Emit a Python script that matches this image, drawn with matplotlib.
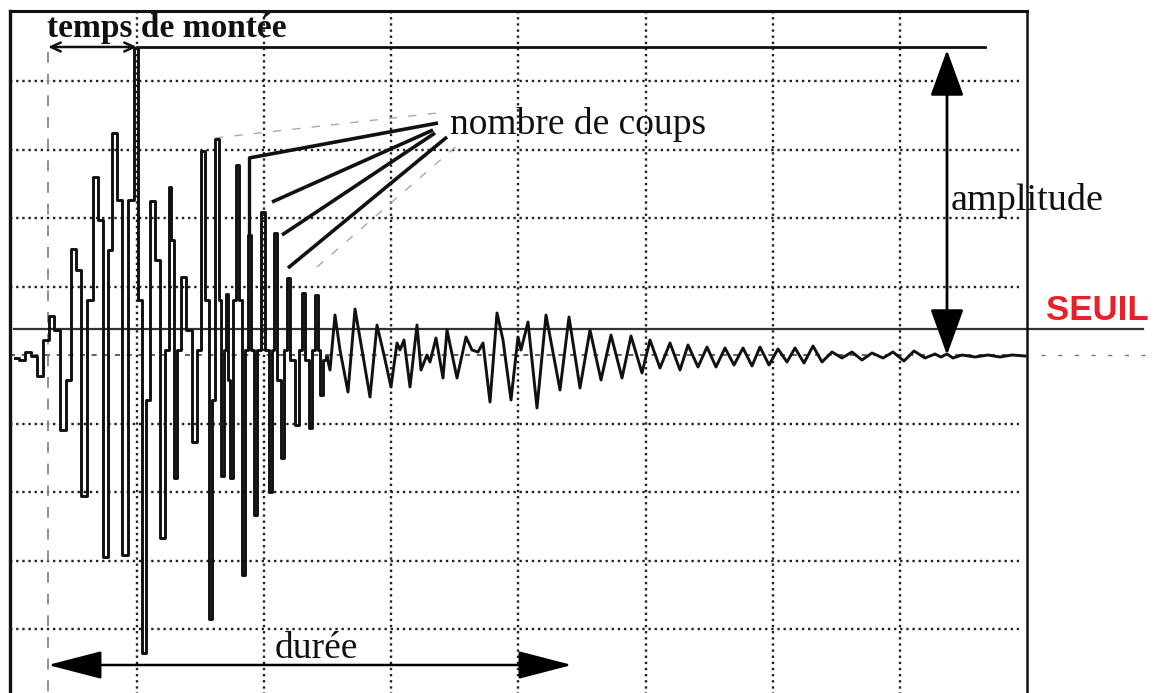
import matplotlib
matplotlib.use("Agg")
import matplotlib.pyplot as plt
from matplotlib.patches import ArrowStyle
import numpy as np

# ---- data: acoustic-emission burst (time in samples, amplitude in counts) ----
time = [5, 12, 18, 23, 30, 36, 42, 46, 53, 58, 63, 68, 74, 80, 85, 90, 95, 100,
        104, 109, 115, 121, 126, 130, 133, 138, 142, 147, 153, 157, 160, 162, 165,
        169, 173, 178, 185, 189, 193, 197, 200, 203, 207, 210, 212, 215, 217, 219,
        221, 224, 227, 230, 233, 236, 239, 242, 245, 249, 253, 257, 260, 263, 265,
        269, 272, 275, 278, 282, 287, 290, 293, 297, 300, 303, 306, 309, 311, 314,
        317, 320, 325, 330, 338, 345, 352, 360, 367, 374, 381, 387, 390, 394, 400,
        407, 411, 417, 420, 426, 433, 437, 447, 456, 462, 468, 473, 480, 487, 493,
        501, 508, 511, 518, 527, 536, 550, 559, 570, 580, 591, 601, 612, 621, 632,
        640, 650, 660, 670, 678, 688, 697, 706, 715, 724, 733, 742, 750, 759, 768,
        777, 785, 794, 803, 812, 822, 832, 842, 852, 862, 873, 883, 894, 904, 915,
        925, 931, 937, 943, 952, 965, 978, 990, 1002, 1015]
amplitude = [-3, -5, 3, -1, -21, 15, 39, 25, -75, -25, 106, 85, -141, 55, 178, 135,
             -202, 105, 222, 155, -200, 155, 307, 55, -298, -45, 154, 95, -183, 5,
             168, 115, -123, 5, 78, 25, -87, 5, 204, 55, -264, -45, 216, 55, -121, 5,
             61, -25, -123, 55, 190, 55, -220, 5, 120, 5, -160, 5, 143, 5, -137, 5,
             122, -25, -103, 5, 77, -5, -70, 5, 62, -5, -73, 5, 60, 5, -40, -5, -2,
             -15, 40, 5, -37, 46, 5, -42, 30, 0, -32, 12, 5, 15, -32, 30, -15, 0, -7,
             17, -23, 25, -23, 18, 5, 3, 12, -47, 42, 15, -45, 18, 5, 33, -53, 40,
             -35, 38, -33, 25, -25, 20, -23, 19, -18, 15, -13, 12, -15, 10, -12, 8,
             -12, 7, -10, 7, -11, 8, -10, 6, -7, 7, -8, 9, -7, 3, -3, 3, -5, 2, -3,
             3, -6, 4, -3, 1, -2, 1, -3, 0, -2, 0, -2, 0, -1]

div_time = 127.1          # samples per horizontal division
div_amp = 68.5            # counts per vertical division
n_div_time = 8
n_div_amp = 5
threshold = 26            # SEUIL level
peak_amp = 307            # peak amplitude
t_first = 38              # first threshold crossing
t_peak = 127              # time of peak
t_last = 562              # last threshold crossing
amp_top_line_end = 975
t_smooth_from = 317       # after the main burst the trace is drawn smooth

labels = {
    "rise": "temps de montée",
    "counts": "nombre de coups",
    "amp": "amplitude",
    "dur": "durée",
    "seuil": "SEUIL",
}
count_peaks_t = [239, 262, 272, 278]
count_peaks_a = [197, 153, 120, 87]

# ---- figure ----
fig = plt.figure(figsize=(11.55, 6.93), dpi=100)
ax = fig.add_axes([0, 0, 1, 1])
ax.set_xlim(-10, 1145)
ax.set_ylim(-338, 355)
ax.axis("off")

t_max = div_time * n_div_time
a_top = div_amp * n_div_amp + 2
a_bot = -div_amp * n_div_amp - 5

# grid
dot = (0, (1, 1.6))
for k in range(1, n_div_time):
    ax.plot([k * div_time] * 2, [a_top, a_bot], color="#222", lw=1.7,
            ls=dot, dash_capstyle="butt", zorder=1)
for k in list(range(-4, 0)) + list(range(1, 5)):
    ax.plot([0, t_max - 8], [k * div_amp] * 2, color="#222", lw=1.7,
            ls=dot, dash_capstyle="butt", zorder=1)
# zero line (dashed inside, sparse outside)
ax.plot([0, t_max - 8], [0, 0], color="#444", lw=1.2, ls=(0, (3, 4)), zorder=1)
ax.plot([t_max + 14, t_max + 122], [0, 0], color="#777", lw=1.0, ls=(0, (3, 9)), zorder=1)

# frame
ax.plot([0, 0], [a_bot, a_top], color="#111", lw=2.4, zorder=3)
ax.plot([t_max, t_max], [a_bot, a_top], color="#111", lw=1.8, zorder=3)
ax.plot([0, t_max], [a_top, a_top], color="#111", lw=2.2, zorder=3)

# threshold line
ax.plot([4, 1133], [threshold, threshold], color="#333", lw=1.6, zorder=2)

# start marker (dashed vertical)
ax.plot([t_first, t_first], [peak_amp - 4, a_bot], color="#888", lw=1.3,
        ls=(0, (6, 6)), zorder=1)

# signal: sampled burst (stepped) + smoother ringing / decay
t_arr = np.asarray(time)
a_arr = np.asarray(amplitude)
split = int(np.searchsorted(t_arr, t_smooth_from)) + 1
ax.plot(t_arr[:split], a_arr[:split], color="#111", lw=2.1,
        drawstyle="steps-mid", zorder=4)
ax.plot(t_arr[split - 1:], a_arr[split - 1:], color="#111", lw=2.1,
        solid_joinstyle="round", zorder=4)

# amplitude reference line at top
ax.plot([t_peak, amp_top_line_end], [peak_amp + 1, peak_amp + 1], color="#111", lw=2.0, zorder=4)

# rise-time double arrow (open heads)
ax.annotate("", xy=(t_first, peak_amp + 1), xytext=(t_peak, peak_amp + 1),
            arrowprops=dict(arrowstyle=ArrowStyle("<->", head_length=7, head_width=3.2),
                            mutation_scale=1, lw=1.8, color="#111",
                            shrinkA=0, shrinkB=0), zorder=5)

# amplitude double arrow (filled heads)
ax.annotate("", xy=(937, peak_amp - 2), xytext=(937, 0),
            arrowprops=dict(arrowstyle=ArrowStyle("<|-|>", head_length=29, head_width=10.5),
                            mutation_scale=1, lw=2.0, color="black",
                            shrinkA=0, shrinkB=0), zorder=5)

# duration double arrow
ax.annotate("", xy=(t_first, -310), xytext=(t_last, -310),
            arrowprops=dict(arrowstyle=ArrowStyle("<|-|>", head_length=34, head_width=8.8),
                            mutation_scale=1, lw=1.8, color="black",
                            shrinkA=0, shrinkB=0), zorder=5)

# pointer lines for "nombre de coups"
ends = [(428, 232), (423, 225), (425, 222), (437, 218)]
ax.plot([count_peaks_t[0], count_peaks_t[0]], [120, count_peaks_a[0]], color="#111", lw=2.4, zorder=5)
for (pt, pa), (et, ea) in zip(zip(count_peaks_t, count_peaks_a), ends):
    ax.plot([pt, et], [pa, ea], color="#111", lw=2.6, solid_capstyle="butt", zorder=5)
# faint scan ghost lines
ax.plot([205, 427], [217, 242], color="#aaa", lw=1.0, ls=(0, (6, 8)), zorder=1)
ax.plot([307, 450], [88, 212], color="#aaa", lw=1.0, ls=(0, (6, 8)), zorder=1)

# texts
serif = ["Liberation Serif", "DejaVu Serif"]
ax.text(37, 318, labels["rise"], family=serif, fontweight="bold", fontsize=24,
        ha="left", va="baseline", color="#111", zorder=6)
ax.text(440, 230, labels["counts"], family=serif, fontsize=27,
        ha="left", va="center", color="#111", zorder=6)
ax.text(941, 155, labels["amp"], family=serif, fontsize=27.5,
        ha="left", va="center", color="#111", zorder=6)
ax.text(265, -303, labels["dur"], family=serif, fontsize=27,
        ha="left", va="baseline", color="#111", zorder=6)
ax.text(1036, 45, labels["seuil"], family=["Liberation Sans", "DejaVu Sans"],
        fontweight="bold", fontsize=25, ha="left", va="center", color="#e8202a", zorder=6)

fig.savefig("out.png", dpi=100, facecolor="white")
